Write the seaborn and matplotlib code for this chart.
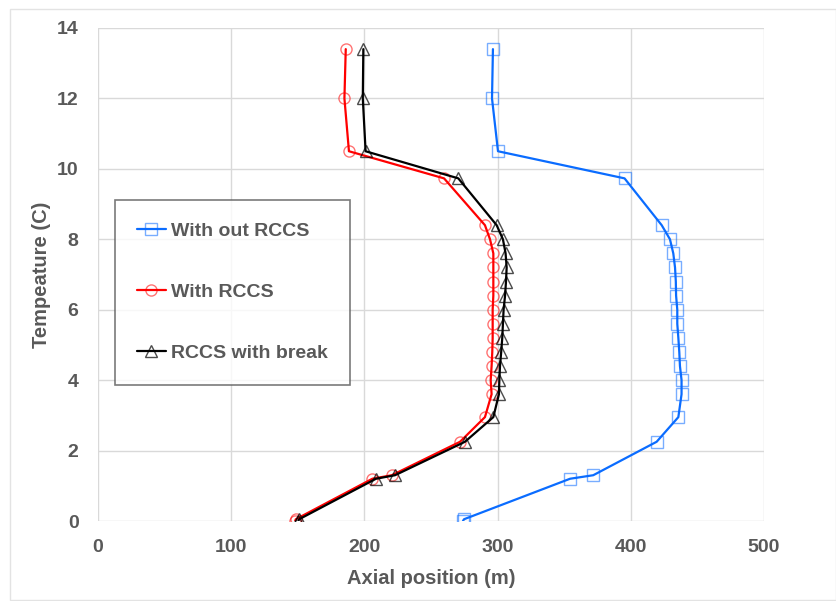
import matplotlib
matplotlib.use("Agg")
import matplotlib.pyplot as plt
import matplotlib.patches as patches
import seaborn as sns
import pandas as pd

# Temperature nodes (shared by all three series)
temp = [13.4, 12.0, 10.5, 9.73, 8.4, 8.0, 7.6, 7.2, 6.8, 6.4, 6.0, 5.6, 5.2,
        4.8, 4.4, 4.0, 3.6, 2.95, 2.25, 1.3, 1.2, 0.05, 0.0]

# Axial positions
pos_without = [296.5, 295.8, 300.3, 395.3, 423.2, 429.4, 431.9, 433.2, 433.8, 434.0,
               434.9, 434.9, 435.7, 436.4, 436.9, 438.1, 438.1, 435.7, 419.4, 371.8,
               354.4, 274.8, 274.0]
pos_with = [186.0, 185.0, 188.4, 259.8, 290.5, 294.3, 296.8, 296.8, 296.8, 296.8,
            296.3, 296.3, 296.3, 296.0, 295.5, 294.8, 295.5, 290.5, 271.8, 220.6,
            206.0, 148.5, 148.0]
pos_break = [199.2, 198.8, 200.9, 270.5, 299.3, 304.0, 306.0, 306.8, 306.3, 305.6,
             304.5, 304.0, 303.5, 302.7, 301.8, 301.3, 301.0, 296.8, 275.5, 223.0,
             208.7, 151.0, 150.4]

labels = ["With out RCCS", "With RCCS", "RCCS with break"]
colors = ["#0a6cff", "#ff0000", "#000000"]
edge_colors = [(0.04, 0.42, 1.0, 0.55), (1.0, 0.0, 0.0, 0.55), (0.0, 0.0, 0.0, 0.7)]
markers = ["s", "o", "^"]

sns.set_style("white")
plt.rcParams["font.family"] = ["Liberation Sans", "DejaVu Sans"]
plt.rcParams["font.weight"] = "bold"
txt = "#595959"

fig = plt.figure(figsize=(8.37, 6.01), dpi=100)
ax = fig.add_axes([98 / 837, 1 - 521 / 601, 666 / 837, 493 / 601])

for xs, lab, c, ec, m in zip([pos_without, pos_with, pos_break], labels, colors, edge_colors, markers):
    df = pd.DataFrame({"pos": xs, "temp": temp})
    sns.lineplot(data=df, x="pos", y="temp", sort=False, estimator=None, ax=ax,
                 color=c, linewidth=1.6, label=lab, marker=m, markersize=8,
                 markerfacecolor="none", markeredgecolor=ec, markeredgewidth=1.0)

ax.set_xlim(0, 500)
ax.set_ylim(0, 14)
ax.set_xticks(range(0, 501, 100))
ax.set_yticks(range(0, 15, 2))
ax.grid(True, color="#d9d9d9", linewidth=1.0)
ax.set_axisbelow(True)
for s in ax.spines.values():
    s.set_visible(False)
ax.tick_params(axis="both", length=0, labelsize=14, labelcolor=txt)
ax.tick_params(axis="x", pad=13)
ax.tick_params(axis="y", pad=14)
for t in ax.get_xticklabels() + ax.get_yticklabels():
    t.set_fontweight("bold")

ax.set_xlabel("Axial position (m)", fontsize=14.5, color=txt, fontweight="bold", labelpad=9)
ax.set_ylabel("Tempeature (C)", fontsize=14.5, color=txt, fontweight="bold", labelpad=4)

leg = ax.legend(loc="upper left", bbox_to_anchor=(0.0255, 0.652), fontsize=14,
                frameon=True, fancybox=False, labelspacing=2.25, handlelength=1.45,
                handletextpad=0.3, borderpad=1.15, borderaxespad=0)
leg.get_frame().set_edgecolor("#595959")
leg.get_frame().set_linewidth(1.2)
for t in leg.get_texts():
    t.set_color(txt)
    t.set_fontweight("bold")

# light chart-area border like the original
fig.patches.append(patches.Rectangle((10 / 837, 1 / 601), 826 / 837, 591 / 601,
                                     transform=fig.transFigure, fill=False,
                                     edgecolor="#e3e3e3", linewidth=1.0))

fig.savefig("out.png", dpi=100)
